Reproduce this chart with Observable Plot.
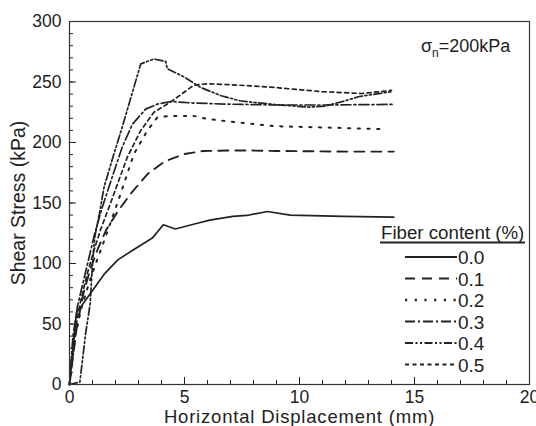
<!DOCTYPE html>
<html>
<head>
<meta charset="utf-8">
<script src="https://cdn.jsdelivr.net/npm/d3@7"></script>
<script src="https://cdn.jsdelivr.net/npm/@observablehq/plot@0.6"></script>
<style>
  body { margin: 0; background: #fff; }
  #chart { position: relative; width: 536px; height: 426px; font-family: "Liberation Sans", Arial, sans-serif; color: #222; }
  #chart svg.overlay { position: absolute; left: 0; top: 0; pointer-events: none; }
  #chart [aria-label="x-axis label"] text { font-size: 18.5px; letter-spacing: 0.8px; }
  #chart [aria-label="y-axis label"] text { font-size: 19.5px; }
</style>
</head>
<body>
<div id="chart"></div>
<script>
// Direct shear test: shear stress vs horizontal displacement, σn = 200 kPa
const fiberContents = ["0.0", "0.1", "0.2", "0.3", "0.4", "0.5"];

const disp00 = [0, 0.3, 0.9, 1.5, 2.1, 2.75, 3.6, 4.08, 4.6, 5.6, 6.1, 7.1, 7.7, 8.6, 9.6, 11.9, 14.1];
const tau00  = [0, 59, 75, 91, 103, 111, 121, 132, 128.5, 133.5, 135.8, 139, 139.7, 143, 140, 139, 138.3];

const disp01 = [0, 0.3, 0.6, 0.9, 1.25, 1.6, 2.1, 2.65, 3.4, 4.1, 5.0, 5.8, 7.4, 9.0, 12.0, 14.1];
const tau01  = [0, 45, 75, 95, 113, 128, 143, 157.5, 174, 184, 190.5, 193, 193.5, 193, 192.5, 192.5];

const disp02 = [0, 0.25, 0.5, 0.85, 1.2, 1.55, 1.9, 2.22, 2.8, 3.38, 3.82, 4.4, 5.4, 6.0, 7.3, 8.9, 11.9, 13.6];
const tau02  = [0, 40, 62, 84, 103, 121, 140, 157.5, 190.5, 209.7, 220.7, 222, 222, 219.4, 216.7, 213.5, 212, 211];

const disp03 = [0, 0.15, 0.35, 0.6, 0.85, 1.1, 1.4, 1.71, 2.29, 2.73, 3.31, 3.82, 4.4, 5.4, 6.9, 9.0, 11.0, 14.1];
const tau03  = [0, 40, 65, 85, 105, 125, 145, 163, 196, 215, 227.6, 231.7, 233.9, 232.6, 231.7, 231, 231, 231.5];

const disp04 = [0, 0.45, 0.5, 0.7, 0.9, 1.0, 1.1, 1.3, 1.5, 1.93, 2.29, 2.65, 3.1, 3.67, 4.18, 4.25, 5.0, 5.7, 6.6, 7.4, 8.9, 10.4, 11.1, 11.9, 12.6, 14.0];
const tau04  = [0, 2, 10, 42, 67, 100, 122, 141, 163, 190.5, 212.5, 236, 265, 269, 267, 261, 254, 245.5, 238.6, 234.5, 231.4, 229.2, 230, 234, 238, 242];

const disp05 = [0, 0.2, 0.45, 0.75, 1.05, 1.35, 1.65, 1.93, 2.51, 3.09, 3.67, 4.4, 5.4, 6.0, 7.44, 8.9, 11.0, 12.7, 14.0];
const tau05  = [0, 40, 66, 90, 110, 128, 143, 157.5, 187.7, 209.7, 225, 233.5, 247.3, 248.6, 247.3, 245.5, 242, 240.5, 243];

const xMajorTicks = [0, 5, 10, 15, 20];
const xMinorTicks = d3.range(0, 21, 1);
const yMajorTicks = [0, 50, 100, 150, 200, 250, 300];
const yMinorTicks = d3.range(0, 301, 10);

const seriesX = [disp00, disp01, disp02, disp03, disp04, disp05];
const seriesY = [tau00, tau01, tau02, tau03, tau04, tau05];

// line style for each fiber content
const lineStyles = [
  {dash: null, width: 1.7},
  {dash: "10,7", width: 1.9},
  {dash: "2.2,7.5", width: 2},
  {dash: "10,3,2,3", width: 1.7},
  {dash: "8,2.5,2,2.5,2,2.5", width: 1.7},
  {dash: "4,3.5", width: 1.7}
];

const series = fiberContents.map((f, k) =>
  seriesX[k].map((x, i) => ({fiber: f, disp: x, tau: seriesY[k][i]}))
);

const W = 536, H = 426;
const ink = "#222";

const plot = Plot.plot({
  width: W,
  height: H,
  marginLeft: 69,
  marginRight: 7,
  marginTop: 21,
  marginBottom: 42,
  style: {fontFamily: "'Liberation Sans', Arial, sans-serif", fontSize: "17.5px", color: ink, background: "white", overflow: "visible"},
  x: {domain: [0, 20]},
  y: {domain: [0, 300]},
  marks: [
    ...series.map((data, k) => Plot.line(data, {
      x: "disp", y: "tau",
      stroke: ink,
      strokeWidth: lineStyles[k].width,
      strokeDasharray: lineStyles[k].dash,
      strokeLinejoin: "round"
    })),
    // inward tick marks (no labels)
    Plot.axisX(xMinorTicks, {tickSize: -4, fill: "none", stroke: ink}),
    Plot.axisX(xMajorTicks, {tickSize: -7, fill: "none", stroke: ink}),
    Plot.axisY(yMinorTicks, {tickSize: -4, fill: "none", stroke: ink}),
    Plot.axisY(yMajorTicks, {tickSize: -7, fill: "none", stroke: ink}),
    // tick labels and axis titles
    Plot.axisX(xMajorTicks, {tickSize: 0, tickPadding: 6, label: "Horizontal Displacement (mm)", labelAnchor: "center", labelArrow: "none", labelOffset: 38, fill: ink}),
    Plot.axisY(yMajorTicks, {tickSize: 0, tickPadding: 8, label: "Shear Stress (kPa)", labelAnchor: "center", labelArrow: "none", labelOffset: 58, fill: ink}),
    Plot.frame({stroke: "#333", strokeWidth: 1.2})
  ]
});

const chart = document.getElementById("chart");
chart.appendChild(plot);

// Legend and test condition, drawn inside the frame
const over = d3.select(chart).append("svg")
  .attr("class", "overlay")
  .attr("width", W).attr("height", H)
  .style("font-family", "'Liberation Sans', Arial, sans-serif")
  .attr("fill", ink);

const cond = over.append("text").attr("x", 421).attr("y", 52).attr("font-size", 18);
cond.append("tspan").text("σ");
cond.append("tspan").attr("font-size", 12).attr("dy", 5).text("n");
cond.append("tspan").attr("dy", -5).text("=200kPa");

over.append("text").attr("x", 381).attr("y", 239).attr("font-size", 18.7).text("Fiber content (%)");
over.append("line").attr("x1", 380).attr("x2", 525).attr("y1", 242.5).attr("y2", 242.5)
  .attr("stroke", ink).attr("stroke-width", 2);

const rowY = [257, 278.5, 300, 321.5, 343, 364.5];
fiberContents.forEach((f, k) => {
  over.append("line")
    .attr("x1", 405).attr("x2", 457).attr("y1", rowY[k]).attr("y2", rowY[k])
    .attr("stroke", ink)
    .attr("stroke-width", lineStyles[k].width + 0.3)
    .attr("stroke-dasharray", lineStyles[k].dash);
  over.append("text").attr("x", 458).attr("y", rowY[k] + 7).attr("font-size", 19).text(f);
});
</script>
</body>
</html>
